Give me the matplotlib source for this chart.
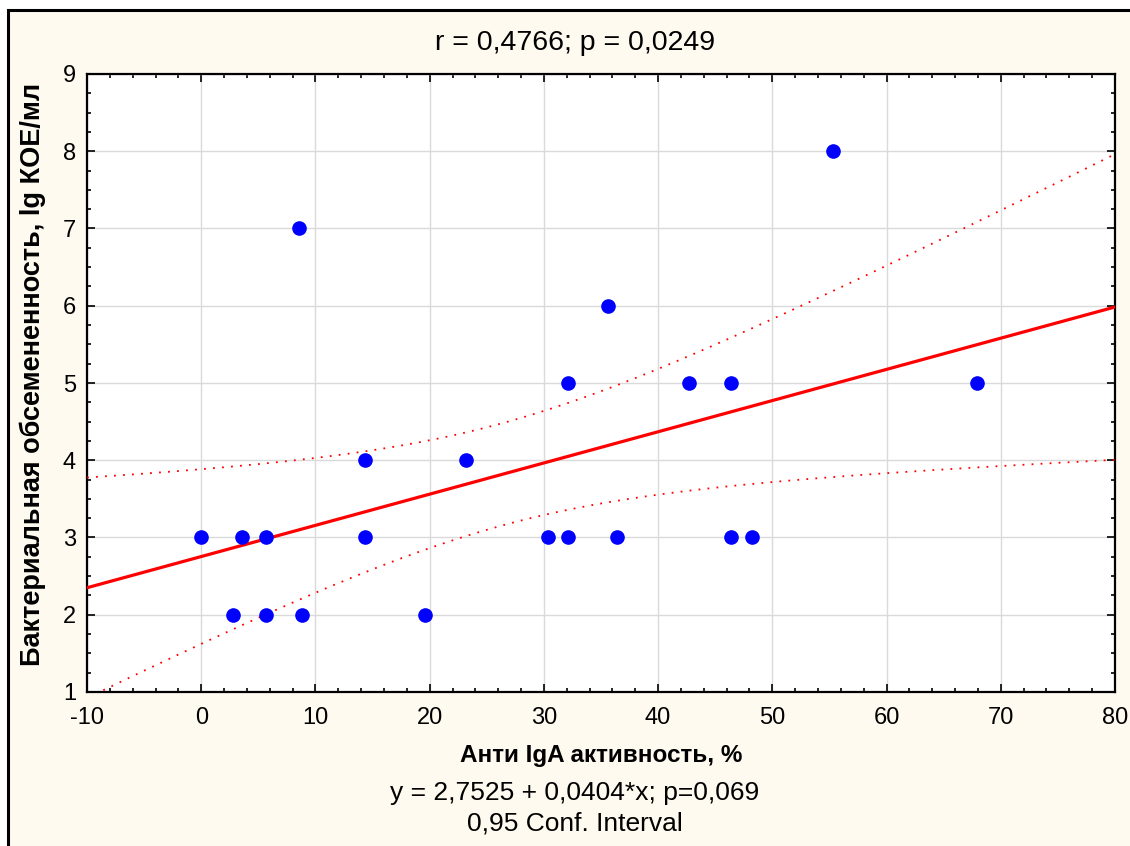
import numpy as np
import matplotlib.pyplot as plt
from matplotlib.patches import Rectangle
from matplotlib.ticker import MultipleLocator

plt.rcParams['font.family'] = ['Liberation Sans', 'DejaVu Sans']
plt.rcParams['axes.unicode_minus'] = False

# data
iga = [0.0, 2.8, 3.6, 5.7, 5.7, 8.6, 8.8, 14.3, 14.3, 19.6, 23.2,
       30.4, 32.1, 32.1, 35.6, 36.4, 42.7, 46.4, 46.4, 48.2, 55.3, 67.9]
bact = [3, 2, 3, 3, 2, 7, 2, 4, 3, 2, 4,
        3, 5, 3, 6, 3, 5, 5, 3, 3, 8, 5]
title_txt = 'r = 0,4766; p = 0,0249'
eq_txt = 'y = 2,7525 + 0,0404*x; p=0,069'
ci_txt = '0,95 Conf. Interval'
xlab = 'Анти IgA активность, %'
ylab = 'Бактериальная обсемененность, lg КОЕ/мл'

x = np.array(iga)
y = np.array(bact)
n = len(x)

# linear fit + 95% confidence band of the mean
b, a = np.polyfit(x, y, 1)
xs = np.linspace(-10, 80, 300)
yfit = a + b * xs
resid = y - (a + b * x)
s = np.sqrt(np.sum(resid**2) / (n - 2))
sxx = np.sum((x - x.mean())**2)
tval = 2.086  # t(0.975, 20)
half = tval * s * np.sqrt(1 / n + (xs - x.mean())**2 / sxx)

fig = plt.figure(figsize=(11.3, 8.46), dpi=100)
fig.patch.set_facecolor('white')
fig.patches.append(Rectangle((8 / 1130, -0.1), 1.2, 1 - 10 / 846 + 0.1,
                             transform=fig.transFigure, facecolor='#fffaf0',
                             edgecolor='black', linewidth=2.2, zorder=-5))

ax = fig.add_axes([87 / 1130, 1 - 692 / 846, (1115 - 87) / 1130, (692 - 74) / 846])
ax.set_facecolor('white')

ax.plot(xs, yfit, color='red', lw=2.3, zorder=3)
ax.plot(xs, yfit + half, color='red', lw=1.3, ls=(0, (1, 4)), zorder=3)
ax.plot(xs, yfit - half, color='red', lw=1.3, ls=(0, (1, 4)), zorder=3)
ax.plot(x, y, 'o', color='#0000ff', ms=9.5, mec='#0000ff', zorder=4, clip_on=False)

ax.set_xlim(-10, 80)
ax.set_ylim(1, 9)
ax.xaxis.set_major_locator(MultipleLocator(10))
ax.xaxis.set_minor_locator(MultipleLocator(2))
ax.yaxis.set_major_locator(MultipleLocator(1))
ax.yaxis.set_minor_locator(MultipleLocator(0.25))
ax.grid(True, which='major', color='#dadada', lw=1)
ax.set_axisbelow(True)
ax.tick_params(which='both', direction='in', top=True, right=True, labelsize=17, width=1.2)
ax.tick_params(which='major', length=6, pad=8)
ax.tick_params(axis='x', which='major', pad=11)
ax.tick_params(which='minor', length=3)
for sp in ax.spines.values():
    sp.set_linewidth(1.6)

fig.text(575 / 1130, 1 - 43 / 846, title_txt, ha='center', va='center', fontsize=20.5)
fig.text(601 / 1130, 1 - 755 / 846, xlab, ha='center', va='center', fontsize=17.5, fontweight='bold')
fig.text(575 / 1130, 1 - 793 / 846, eq_txt, ha='center', va='center', fontsize=19)
fig.text(575 / 1130, 1 - 823 / 846, ci_txt, ha='center', va='center', fontsize=19)
fig.text(33 / 1130, 1 - 374 / 846, ylab, ha='center', va='center', rotation=90,
         fontsize=19.5, fontweight='bold')

fig.savefig('out.png', dpi=100, facecolor=fig.get_facecolor())
